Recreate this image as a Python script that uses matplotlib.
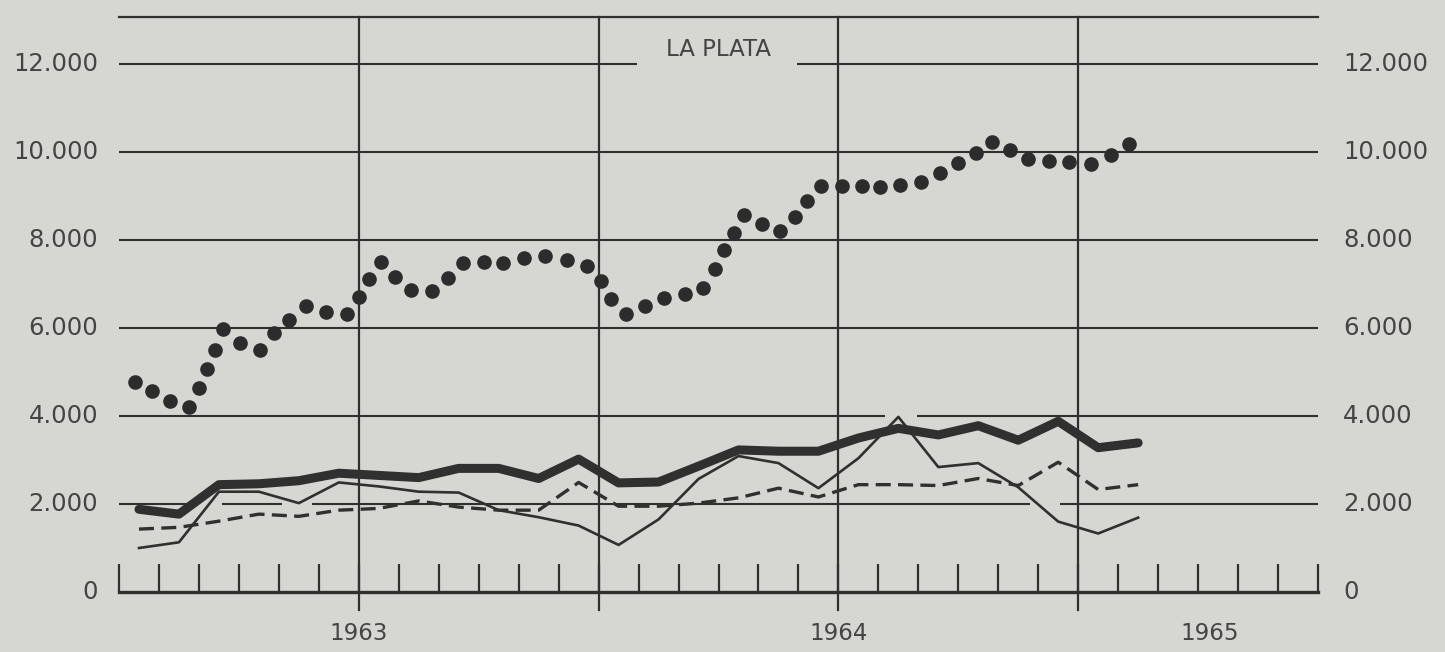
import matplotlib
matplotlib.use("Agg")
import matplotlib.pyplot as plt

# ---------------- data ----------------
# monthly series, Jan 1963 .. Feb 1965, plotted at mid-month
line_months = [i + 0.5 for i in range(26)]
thick_series = [1880, 1770, 2440, 2460, 2530, 2700, 2650, 2600, 2810, 2810,
                2580, 3020, 2480, 2500, 2860, 3230, 3200, 3200, 3500, 3720,
                3570, 3780, 3450, 3880, 3280, 3390]
thin_series = [1000, 1130, 2280, 2280, 2020, 2490, 2400, 2280, 2260, 1860,
               1700, 1510, 1070, 1650, 2570, 3090, 2930, 2360, 3040, 3980,
               2840, 2930, 2380, 1600, 1330, 1690]
dashed_series = [1430, 1470, 1610, 1770, 1720, 1860, 1900, 2070, 1930, 1860,
                 1860, 2490, 1950, 1950, 2020, 2140, 2360, 2160, 2440, 2440,
                 2420, 2580, 2420, 2950, 2330, 2440]

# dotted series (each printed dot)
dot_months = [0.40, 0.83, 1.28, 1.76, 2.01, 2.21, 2.39, 2.61, 3.04, 3.54,
              3.89, 4.26, 4.67, 5.17, 5.70, 6.00, 6.25, 6.55, 6.90, 7.31,
              7.83, 8.23, 8.61, 9.14, 9.62, 10.14, 10.67, 11.20, 11.70, 12.05,
              12.32, 12.69, 13.16, 13.63, 14.15, 14.62, 14.92, 15.14, 15.39, 15.64,
              16.08, 16.55, 16.92, 17.22, 17.57, 18.08, 18.58, 19.03, 19.55, 20.06,
              20.53, 20.98, 21.44, 21.84, 22.29, 22.74, 23.27, 23.77, 24.31, 24.83,
              25.26]
dot_values = [4770, 4560, 4350, 4210, 4630, 5070, 5510, 5980, 5670, 5510,
              5880, 6180, 6500, 6360, 6320, 6700, 7110, 7500, 7160, 6860,
              6840, 7140, 7480, 7490, 7470, 7590, 7640, 7550, 7410, 7070,
              6660, 6320, 6500, 6680, 6770, 6910, 7340, 7770, 8150, 8570,
              8370, 8200, 8530, 8880, 9230, 9230, 9220, 9200, 9250, 9320,
              9520, 9740, 9980, 10240, 10040, 9850, 9800, 9780, 9730, 9930,
              10180]

y_ticks = [0, 2000, 4000, 6000, 8000, 10000, 12000]
y_labels = ["0", "2.000", "4.000", "6.000", "8.000", "10.000", "12.000"]
year_positions = [6, 18, 27.3]
year_labels = ["1963", "1964", "1965"]
year_lines = [6, 12, 18, 24]
title_text = "LA PLATA"

# ---------------- style ----------------
BG = "#d6d6d2"
INK = "#303030"
TXT = "#444444"
W, H = 1445, 652
X0, X1 = 119, 1318
Y0, Y1 = 592, 17

fig = plt.figure(figsize=(W / 100, H / 100), dpi=100, facecolor=BG)
ax = fig.add_axes([X0 / W, 1 - Y0 / H, (X1 - X0) / W, (Y0 - Y1) / H])
ax.set_facecolor(BG)
ax.set_xlim(0, 30)
ax.set_ylim(0, 13070)

for s in ("left", "right"):
    ax.spines[s].set_visible(False)
ax.spines["bottom"].set_linewidth(2.4)
ax.spines["bottom"].set_color(INK)
ax.spines["top"].set_linewidth(1.6)
ax.spines["top"].set_color(INK)

ax.set_xticks(range(31))
ax.tick_params(axis="x", direction="in", length=20, width=1.6, color=INK,
               labelbottom=False, bottom=True, top=False)
ax.set_yticks([])

# horizontal grid lines (with the gaps visible in the print)
gaps = {12000: [(12.96, 16.97)],
        4000: [(19.17, 19.97)],
        2000: [(1.73, 2.58), (4.08, 4.83), (22.8, 23.55)]}
for yv in y_ticks[1:]:
    segs = []
    start = 0
    for a, b in gaps.get(yv, []):
        segs.append((start, a))
        start = b
    segs.append((start, 30))
    for a, b in segs:
        ax.plot([a, b], [yv, yv], color=INK, lw=1.5, zorder=1, solid_capstyle="butt")

# vertical year/half-year lines
for xv in year_lines:
    ax.axvline(xv, ymin=-0.032, ymax=1, color=INK, lw=1.6, clip_on=False, zorder=1)

# y labels
for yv, lab in zip(y_ticks, y_labels):
    ax.text(-0.0175, yv, lab, transform=ax.get_yaxis_transform(), ha="right",
            va="center", fontsize=17.5, color=TXT)
    ax.text(1.0208, yv, lab, transform=ax.get_yaxis_transform(), ha="left",
            va="center", fontsize=17.5, color=TXT)

# year labels
for xv, lab in zip(year_positions, year_labels):
    ax.text(xv, -0.073, lab, transform=ax.get_xaxis_transform(), ha="center",
            va="center", fontsize=16.5, color=TXT, clip_on=False)

ax.text(15.0, 12330, title_text, ha="center", va="center", fontsize=16.5, color=TXT)

# data
ax.plot(line_months, dashed_series, color=INK, lw=2.4, ls=(0, (4.5, 2.2)), zorder=3)
ax.plot(line_months, thin_series, color=INK, lw=1.9, zorder=3)
ax.plot(line_months, thick_series, color=INK, lw=6.5, zorder=4,
        solid_capstyle="round", solid_joinstyle="round")
ax.plot(dot_months, dot_values, "o", ls="none", ms=9.5, color="#2c2c2c", zorder=5)

fig.savefig("out.png", dpi=100, facecolor=BG)
